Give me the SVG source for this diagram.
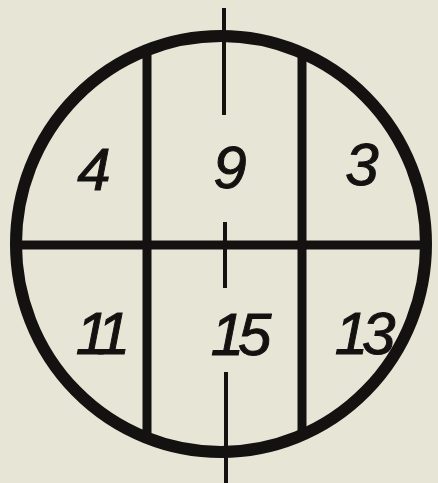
<svg xmlns="http://www.w3.org/2000/svg" width="438" height="483" viewBox="0 0 438 483">
<style>
.bg{fill:#e6e5d6}
.thick{fill:none;stroke:#141210;stroke-width:12}
.mid{fill:none;stroke:#141210;stroke-width:9}
.axis{fill:none;stroke:#141210;stroke-width:4}
.lbl{font-family:"Liberation Sans","DejaVu Sans",sans-serif;font-style:italic;font-size:60px;fill:#141210;stroke:#141210;stroke-width:1;text-anchor:middle}
</style>
<rect class="bg" x="0" y="0" width="438" height="483"/>
<g id="outline">
<ellipse class="thick" cx="221" cy="244" rx="205" ry="208"/>
</g>
<g id="connectors">
<line class="mid" x1="147" y1="50" x2="147" y2="440"/>
<line class="mid" x1="302" y1="56" x2="302" y2="434"/>
<line class="mid" x1="16" y1="245" x2="427" y2="245"/>
<line class="axis" x1="224" y1="8" x2="224" y2="115"/>
<line class="axis" x1="225" y1="222" x2="225" y2="288"/>
<line class="axis" x1="226" y1="372" x2="226" y2="483"/>
</g>
<g id="cell-4"><text class="lbl" x="94" y="190">4</text></g>
<g id="cell-9"><text class="lbl" x="230" y="188">9</text></g>
<g id="cell-3"><text class="lbl" x="362" y="185">3</text></g>
<g id="cell-11"><text class="lbl" x="99" y="354" letter-spacing="-8">11</text></g>
<g id="cell-15"><text class="lbl" x="238" y="355" letter-spacing="-6">15</text></g>
<g id="cell-13"><text class="lbl" x="362" y="354" letter-spacing="-6">13</text></g>
</svg>
